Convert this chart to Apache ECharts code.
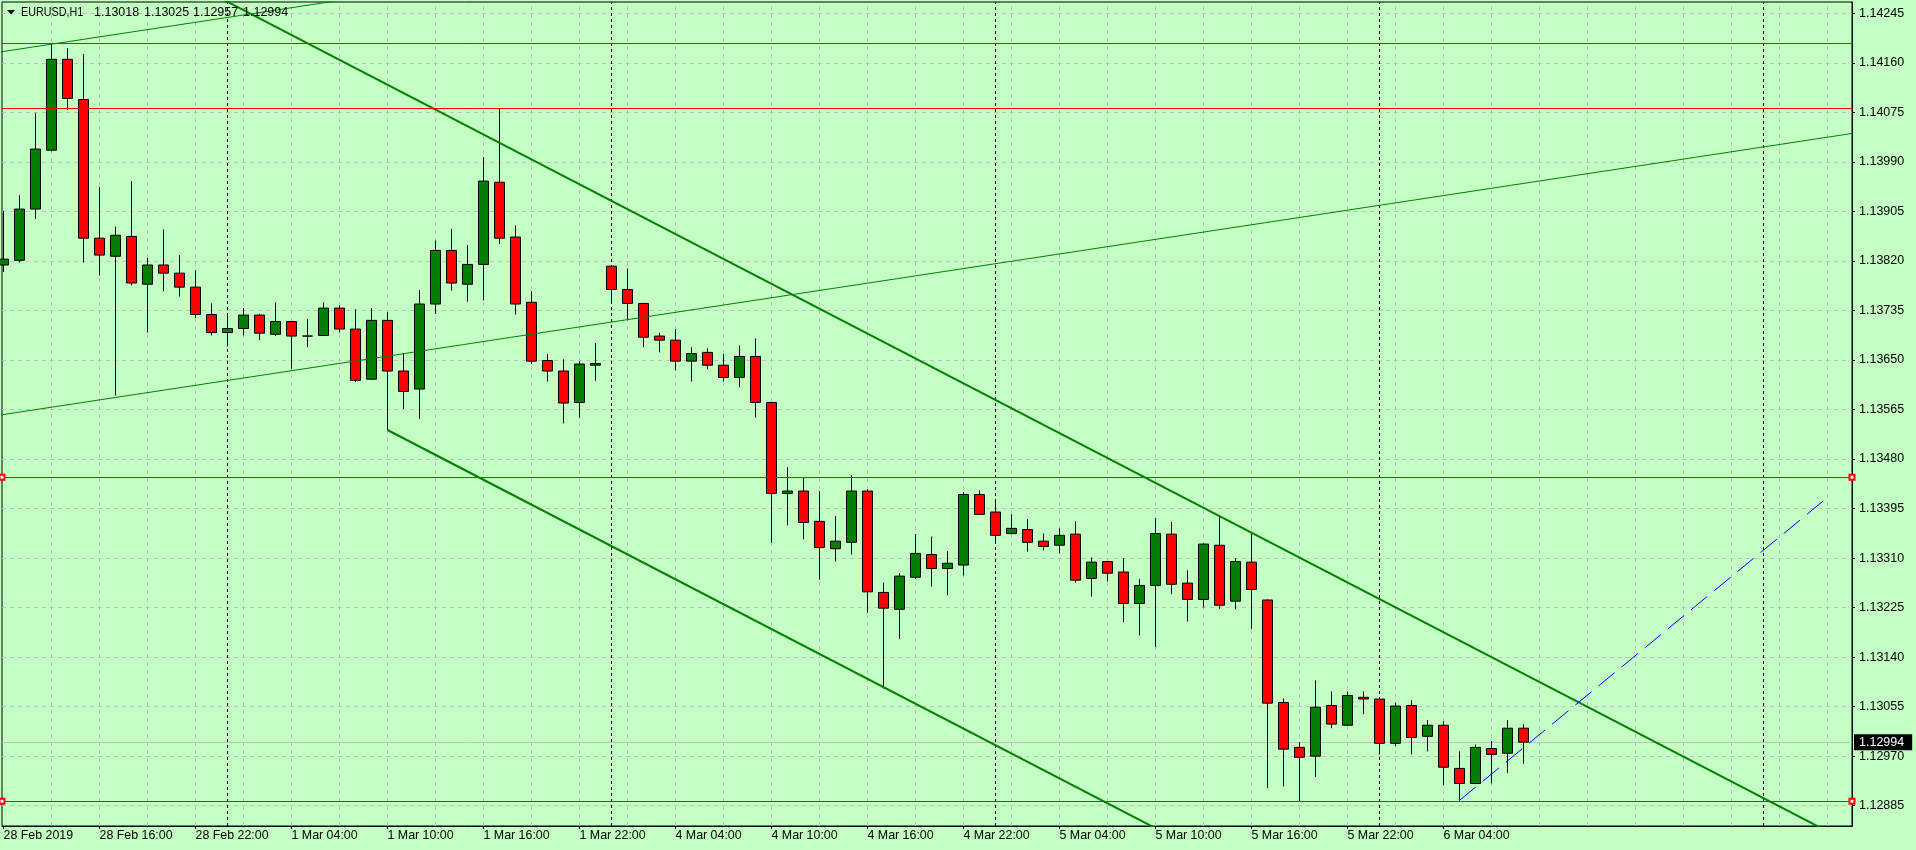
<!DOCTYPE html>
<html><head><meta charset="utf-8">
<script src="https://cdn.jsdelivr.net/npm/echarts@6/dist/echarts.min.js"></script>
<style>html,body{margin:0;padding:0;background:#c4ffc4;overflow:hidden}#c{width:1916px;height:850px}</style>
</head><body><div id="c"></div>
<script>
// ---------------- data ----------------
const symbolTitle = 'EURUSD,H1';
const headerQuote = ['1.13018', '1.13025', '1.12957', '1.12994'];

// hourly bars, index 0 = 28 Feb 2019 10:00
const open = [1.13813,1.13821,1.13909,1.14010,1.14166,1.14097,1.13859,1.13828,1.13862,1.13780,
1.13813,1.13799,1.13775,1.13728,1.13697,1.13704,1.13727,1.13694,1.13716,1.13691,
1.13692,1.13739,1.13703,1.13617,1.13718,1.13631,1.13600,1.13746,1.13838,1.13780,
1.13814,1.13955,1.13861,1.13749,1.13649,1.13631,1.13577,1.13641,1.13811,1.13771,
1.13747,1.13691,1.13684,1.13648,1.13663,1.13641,1.13620,1.13656,1.13577,1.13421,
1.13425,1.13373,1.13326,1.13337,1.13425,1.13251,1.13222,1.13277,1.13316,1.13292,
1.13298,1.13419,1.13389,1.13352,1.13359,1.13339,1.13332,1.13351,1.13275,1.13304,
1.13286,1.13232,1.13263,1.13351,1.13267,1.13239,1.13332,1.13236,1.13303,1.13238,
1.13062,1.12985,1.12970,1.13057,1.13023,1.13071,1.13068,1.12992,1.13057,1.13004,
1.13023,1.12949,1.12923,1.12983,1.12975,1.13018];
const close = [1.13823,1.13909,1.14012,1.14166,1.14099,1.13859,1.13830,1.13864,1.13782,1.13813,
1.13799,1.13775,1.13728,1.13697,1.13704,1.13727,1.13696,1.13716,1.13691,1.13691,
1.13739,1.13703,1.13615,1.13718,1.13631,1.13596,1.13746,1.13838,1.13782,1.13814,
1.13957,1.13859,1.13746,1.13648,1.13631,1.13576,1.13643,1.13644,1.13771,1.13747,
1.13689,1.13684,1.13648,1.13661,1.13641,1.13620,1.13656,1.13577,1.13421,1.13425,
1.13371,1.13328,1.13339,1.13425,1.13252,1.13224,1.13279,1.13318,1.13292,1.13301,
1.13419,1.13385,1.13349,1.13361,1.13337,1.13330,1.13349,1.13272,1.13303,1.13284,
1.13232,1.13263,1.13352,1.13265,1.13239,1.13334,1.13229,1.13304,1.13256,1.13061,
1.12982,1.12968,1.13054,1.13025,1.13074,1.13068,1.12992,1.13056,1.13002,1.13023,
1.12951,1.12923,1.12985,1.12973,1.13018,1.12994];
const low = [1.13801,1.13817,1.13892,1.14008,1.14079,1.13817,1.13795,1.13589,1.13778,1.13697,
1.13768,1.13759,1.13722,1.13692,1.13673,1.13692,1.13684,1.13691,1.13635,1.13672,
1.13691,1.13697,1.13612,1.13616,1.13530,1.13566,1.13549,1.13729,1.13769,1.13750,
1.13752,1.13849,1.13728,1.13643,1.13613,1.13541,1.13551,1.13614,1.13746,1.13718,
1.13672,1.13663,1.13632,1.13613,1.13634,1.13613,1.13603,1.13551,1.13336,1.13366,
1.13342,1.13273,1.13304,1.13316,1.13216,1.13086,1.13171,1.13274,1.13261,1.13246,
1.13280,1.13384,1.13339,1.13351,1.13321,1.13323,1.13318,1.13268,1.13244,1.13270,
1.13200,1.13177,1.13157,1.13248,1.13201,1.13225,1.13223,1.13222,1.13188,1.12915,
1.12918,1.12891,1.12934,1.13018,1.13022,1.13042,1.12973,1.12987,1.12973,1.12978,
1.12920,1.12894,1.12922,1.12923,1.12941,1.12957];
const high = [1.13906,1.13933,1.14074,1.14194,1.14185,1.14175,1.13947,1.13879,1.13957,1.13825,
1.13874,1.13830,1.13804,1.13747,1.13730,1.13739,1.13729,1.13749,1.13716,1.13720,
1.13749,1.13744,1.13737,1.13739,1.13732,1.13661,1.13770,1.13855,1.13875,1.13847,
1.13998,1.14082,1.13881,1.13768,1.13660,1.13651,1.13648,1.13679,1.13813,1.13807,
1.13748,1.13697,1.13703,1.13672,1.13670,1.13660,1.13675,1.13687,1.13578,1.13466,
1.13449,1.13425,1.13382,1.13452,1.13428,1.13268,1.13284,1.13351,1.13347,1.13322,
1.13423,1.13426,1.13409,1.13385,1.13377,1.13352,1.13361,1.13373,1.13311,1.13305,
1.13310,1.13274,1.13379,1.13372,1.13289,1.13335,1.13380,1.13310,1.13352,1.13239,
1.13069,1.12994,1.13100,1.13081,1.13081,1.13081,1.13069,1.13062,1.13066,1.13032,
1.13030,1.12978,1.12990,1.12996,1.13032,1.13025];

const xLabelBars = [0,6,12,18,24,30,36,42,48,54,60,66,72,78,84,90];
const xLabels = ['28 Feb 2019','28 Feb 16:00','28 Feb 22:00','1 Mar 04:00','1 Mar 10:00','1 Mar 16:00',
  '1 Mar 22:00','4 Mar 04:00','4 Mar 10:00','4 Mar 16:00','4 Mar 22:00','5 Mar 04:00','5 Mar 10:00',
  '5 Mar 16:00','5 Mar 22:00','6 Mar 04:00'];
const yTicks = [1.12885,1.12970,1.13055,1.13140,1.13225,1.13310,1.13395,1.13480,1.13565,
  1.13650,1.13735,1.13820,1.13905,1.13990,1.14075,1.14160,1.14245];
const daySeparatorBars = [14,38,62,86,110];

const levelsPlain = [1.141935, 1.140819];
const levelsMarked = [1.134486, 1.128924];
const bidPrice = 1.12994;

const trendThinLower = [[-1,1.135522],[116,1.140407]];
const trendThinUpper = [[-1,1.141753],[116,1.146638]];
const channelUpper = [[10,1.143217],[116,1.128125]];
const channelLower = [[24,1.135298],[116,1.122199]];
const blueTrend = [[91,1.12894],[114,1.13414]];

// ---------------- chart ----------------
const FONT = '"Liberation Sans", Arial, sans-serif';
const gridV = [];
for (let b = 3; b <= 114; b += 3) gridV.push({xAxis: b});
const gridH = yTicks.map(v => ({yAxis: v}));

const chart = echarts.init(document.getElementById('c'), null, {renderer: 'canvas'});
const lineSeries = (data, color, width, type, z) => ({
  type: 'line', data: data, symbol: 'none', silent: true, z: z, clip: true,
  lineStyle: {color: color, width: width, type: type || 'solid'}, animation: false
});
const hostSeries = (z, markLine) => ({
  type: 'line', data: [[-50, 1.13]], symbol: 'none', silent: true, z: z,
  lineStyle: {width: 0}, markLine: Object.assign({silent: true, animation: false, precision: 6, z: z}, markLine)
});

chart.setOption({
  animation: false,
  backgroundColor: '#c4ffc4',
  grid: {left: 2, right: 64, top: 2, bottom: 24, show: true, borderColor: '#000', borderWidth: 1,
         containLabel: false, outerBoundsMode: 'none'},
  xAxis: {
    type: 'value', min: -0.09375, max: 115.53125,
    axisLine: {show: true, onZero: false, lineStyle: {color: '#000', width: 1}},
    axisTick: {show: true, customValues: xLabelBars, length: 3, lineStyle: {color: '#000'}},
    axisLabel: {show: true, customValues: xLabelBars, align: 'left', margin: 4, color: '#000',
      fontSize: 12.4, fontFamily: FONT,
      formatter: v => xLabels[xLabelBars.indexOf(Math.round(v))] || ''},
    splitLine: {show: false}
  },
  yAxis: {
    type: 'value', position: 'right', min: 1.128501, max: 1.142644, scale: true,
    axisLine: {show: true, onZero: false, lineStyle: {color: '#000', width: 1}},
    axisTick: {show: true, customValues: yTicks, length: 3, lineStyle: {color: '#000'}},
    axisLabel: {show: true, customValues: yTicks, margin: 7, color: '#000', fontSize: 12.5, fontFamily: FONT,
      formatter: v => v.toFixed(5)},
    splitLine: {show: false}
  },
  series: [
    hostSeries(1, { // grid + period separators
      symbol: 'none', label: {show: false},
      lineStyle: {color: '#c0c0c0', type: [4, 4], width: 1},
      data: gridV.concat(gridH).concat(daySeparatorBars.map(b => ({xAxis: b,
        lineStyle: {color: '#000', type: [3, 3], width: 1}})))
    }),
    hostSeries(2, { // bid line
      symbol: 'none',
      lineStyle: {color: '#c0c0c0', type: 'solid', width: 1},
      label: {show: true, position: 'end', distance: 2, formatter: bidPrice.toFixed(5),
        color: '#fff', backgroundColor: '#000', padding: [2, 8, 1, 5],
        fontSize: 12.5, fontFamily: FONT},
      data: [{yAxis: bidPrice}]
    }),
    {
      type: 'candlestick', z: 3, silent: true, animation: false,
      data: open.map((o, i) => [i, o, close[i], low[i], high[i]]),
      encode: {x: 0, y: [1, 2, 3, 4]},
      barWidth: 10,
      itemStyle: {color: '#008000', color0: '#ff0000', borderColor: '#000', borderColor0: '#000',
        borderColorDoji: '#000', borderWidth: 1}
    },
    lineSeries(trendThinLower, '#008000', 1, 'solid', 4),
    lineSeries(trendThinUpper, '#008000', 1, 'solid', 4),
    lineSeries(channelUpper, '#008000', 2, 'solid', 4),
    lineSeries(channelLower, '#008000', 2, 'solid', 4),
    lineSeries(blueTrend, '#0000ff', 1, [21, 9], 5),
    hostSeries(5, {
      symbol: 'none', label: {show: false},
      lineStyle: {color: '#ff0000', type: 'solid', width: 1},
      data: levelsPlain.map(v => ({yAxis: v}))
    }),
    hostSeries(5, {
      symbol: ['emptyRect', 'emptyRect'], symbolSize: 5, label: {show: false},
      itemStyle: {color: '#ff0000'},
      lineStyle: {color: '#ff0000', type: 'solid', width: 1},
      data: levelsMarked.map(v => ({yAxis: v}))
    })
  ],
  graphic: [
    {type: 'polygon', z: 100, shape: {points: [[7, 10], [15, 10], [11, 14.5]]}, style: {fill: '#000'}},
    {type: 'text', z: 100, x: 21, y: 13, scaleX: 0.86, style: {text: symbolTitle, font: '12.5px ' + FONT, fill: '#000', verticalAlign: 'middle'}},
    {type: 'text', z: 100, x: 94, y: 13, style: {text: headerQuote[0], font: '12.5px ' + FONT, fill: '#000', verticalAlign: 'middle'}},
    {type: 'text', z: 100, x: 144, y: 13, style: {text: headerQuote[1], font: '12.5px ' + FONT, fill: '#000', verticalAlign: 'middle'}},
    {type: 'text', z: 100, x: 193, y: 13, style: {text: headerQuote[2], font: '12.5px ' + FONT, fill: '#000', verticalAlign: 'middle'}},
    {type: 'text', z: 100, x: 243, y: 13, style: {text: headerQuote[3], font: '12.5px ' + FONT, fill: '#000', verticalAlign: 'middle'}}
  ]
});
</script></body></html>
